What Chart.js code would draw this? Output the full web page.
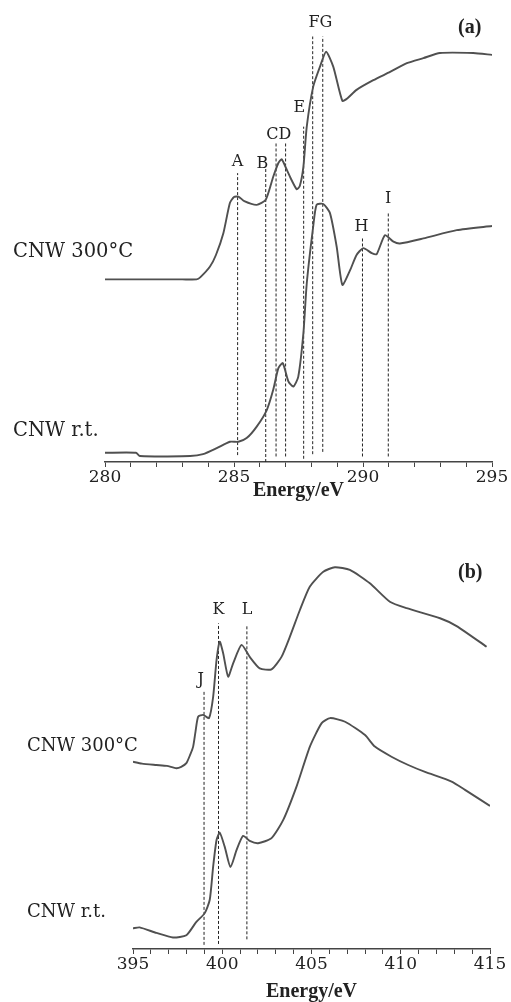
<!DOCTYPE html>
<html>
<head>
<meta charset="utf-8">
<script src="https://cdn.jsdelivr.net/npm/chart.js@4.4.1/dist/chart.umd.min.js"></script>
<style>
  html, body { margin: 0; padding: 0; background: #fff; overflow: hidden; }
  body { width: 511px; height: 1002px; position: relative; }
  canvas { position: absolute; left: 0; }
  #chartA { top: 0; }
  #chartB { top: 487px; }
  .name { position: absolute; font-family: "DejaVu Serif", serif; font-size: 18px; color: #222; white-space: nowrap; line-height: 1; }
  .big { font-size: 19.5px; }
  .tag { position: absolute; font-family: "Liberation Serif", serif; font-weight: bold; font-size: 20px; color: #222; line-height: 1; }
</style>
</head>
<body>
<canvas id="chartA" width="511" height="510"></canvas>
<canvas id="chartB" width="511" height="520"></canvas>

<div class="name big" style="left:13px; top:241px;">CNW 300°C</div>
<div class="name big" style="left:13px; top:420px;">CNW r.t.</div>
<div class="name" style="left:27px; top:736px;">CNW 300°C</div>
<div class="name" style="left:27px; top:902px;">CNW r.t.</div>
<div class="tag" style="left:458px; top:16px;">(a)</div>
<div class="tag" style="left:458px; top:561px;">(b)</div>

<script>
// ---- panel (a): C K-edge, intensity in arbitrary units ----
const energyA300 = [280.0, 281.5, 283.0, 283.55, 283.7, 284.07, 284.3, 284.59, 284.84, 285.0, 285.17, 285.4, 285.88, 286.23, 286.52, 286.72, 286.85, 287.0, 287.17, 287.43, 287.55, 287.69, 287.82, 288.07, 288.33, 288.57, 288.85, 289.2, 289.4, 289.75, 290.4, 291.05, 291.7, 292.34, 292.98, 294.27, 295.0];
const intensA300 = [3.97, 3.97, 3.97, 3.97, 4.02, 4.25, 4.5, 4.98, 5.63, 5.76, 5.77, 5.67, 5.59, 5.7, 6.2, 6.5, 6.58, 6.41, 6.2, 5.93, 6.0, 6.42, 7.29, 8.16, 8.59, 8.92, 8.59, 7.85, 7.91, 8.09, 8.3, 8.48, 8.67, 8.78, 8.89, 8.89, 8.85];

const energyART = [280.0, 281.2, 281.35, 283.3, 283.8, 284.33, 284.84, 285.17, 285.49, 285.88, 286.27, 286.52, 286.72, 286.89, 287.11, 287.3, 287.49, 287.69, 287.82, 288.07, 288.2, 288.46, 288.72, 288.98, 289.2, 289.5, 289.75, 290.01, 290.34, 290.53, 290.85, 291.18, 291.43, 292.34, 293.63, 295.0];
const intensART = [0.2, 0.2, 0.13, 0.13, 0.17, 0.3, 0.44, 0.44, 0.52, 0.77, 1.13, 1.57, 2.04, 2.15, 1.75, 1.64, 1.85, 2.8, 3.88, 5.12, 5.59, 5.61, 5.41, 4.68, 3.85, 4.17, 4.5, 4.65, 4.54, 4.52, 4.93, 4.79, 4.75, 4.86, 5.04, 5.13];

const markerEnergyA = [285.14, 286.23, 286.63, 287.0, 287.7, 288.05, 288.44, 289.98, 290.98];
const markerTopA    = [6.28, 6.37, 6.96, 6.96, 7.29, 9.25, 9.25, 4.9, 5.41];
const markerBottomA = [0.15, 0.0, 0.12, 0.12, 0.07, 0.17, 0.22, 0.12, 0.12];

const labelTextA   = ['A', 'B', 'CD', 'E', 'FG', 'H', 'I'];
const labelEnergyA = [285.14, 286.1, 286.74, 287.53, 288.35, 289.94, 290.98];
const labelValueA  = [6.53, 6.49, 7.11, 7.69, 9.54, 5.12, 5.73];

// ---- panel (b): N K-edge ----
const energyB300 = [395.0, 395.5, 396.31, 396.9, 397.43, 397.7, 397.99, 398.2, 398.37, 398.5, 398.65, 398.93, 399.26, 399.49, 399.68, 399.86, 400.05, 400.33, 400.61, 401.08, 401.54, 402.1, 402.76, 403.32, 403.79, 404.35, 404.91, 405.66, 406.31, 407.15, 408.27, 409.39, 410.33, 412.2, 413.13, 414.81];
const intensB300 = [4.07, 4.03, 4.0, 3.98, 3.93, 3.96, 4.04, 4.22, 4.4, 4.72, 5.05, 5.09, 5.02, 5.48, 6.28, 6.68, 6.43, 5.92, 6.21, 6.61, 6.35, 6.1, 6.08, 6.35, 6.79, 7.37, 7.88, 8.2, 8.3, 8.24, 7.95, 7.55, 7.41, 7.19, 7.02, 6.57];

const energyBRT = [395.0, 395.37, 396.31, 397.24, 397.99, 398.55, 399.02, 399.3, 399.49, 399.68, 399.86, 400.14, 400.46, 400.8, 401.17, 401.54, 402.01, 402.76, 403.41, 404.16, 404.91, 405.57, 406.04, 406.88, 408.0, 408.55, 409.48, 410.42, 411.36, 412.85, 413.6, 415.0];
const intensBRT = [0.45, 0.47, 0.35, 0.25, 0.3, 0.59, 0.78, 1.07, 1.79, 2.37, 2.53, 2.22, 1.78, 2.15, 2.46, 2.35, 2.3, 2.41, 2.8, 3.53, 4.4, 4.91, 5.02, 4.94, 4.65, 4.4, 4.18, 4.0, 3.85, 3.64, 3.46, 3.11];

const markerEnergyB = [398.98, 399.79, 401.38];
const markerTopB    = [5.59, 7.08, 7.04];
const markerBottomB = [0.09, 0.11, 0.21];

const labelTextB   = ['J', 'K', 'L'];
const labelEnergyB = [398.8, 399.79, 401.39];
const labelValueB  = [5.85, 7.37, 7.37];

const tickFont = { family: 'DejaVu Serif', size: 17 };
const titleFont = { family: 'Liberation Serif', size: 20, weight: 'bold' };

function toPoints(xs, ys) {
    return xs.map((x, i) => ({ x: x, y: ys[i] }));
}

function spectrum(xs, ys) {
    return {
        data: toPoints(xs, ys),
        borderColor: '#505050',
        borderWidth: 1.9,
        pointRadius: 0,
        tension: 0.2,
        fill: false
    };
}

function markerLines(es, tops, bottoms) {
    return es.map((e, i) => ({
        data: [{ x: e, y: bottoms[i] }, { x: e, y: tops[i] }],
        borderColor: '#222',
        borderWidth: 1,
        borderDash: [3, 2],
        pointRadius: 0
    }));
}

// draws the peak letters at data positions
const peakLabels = {
    id: 'peakLabels',
    afterDatasetsDraw(chart, args, opts) {
        const c = chart.ctx;
        const xs = chart.scales.x, ys = chart.scales.y;
        c.save();
        c.font = '16px "DejaVu Serif"';
        c.fillStyle = '#222';
        c.textAlign = 'center';
        c.textBaseline = 'middle';
        opts.text.forEach((t, i) => {
            c.fillText(t, xs.getPixelForValue(opts.energy[i]), ys.getPixelForValue(opts.value[i]));
        });
        c.restore();
    }
};

function makeChart(id, xmin, xmax, padLeft, padRight, scaleHeight, titlePad, datasets, labels) {
    return new Chart(document.getElementById(id), {
        type: 'line',
        data: { datasets: datasets },
        options: {
            responsive: false,
            animation: false,
            devicePixelRatio: 1,
            layout: { padding: { top: 2, left: padLeft, right: padRight, bottom: 0 } },
            plugins: {
                legend: { display: false },
                tooltip: { enabled: false },
                peakLabels: labels
            },
            scales: {
                x: {
                    type: 'linear',
                    min: xmin,
                    max: xmax,
                    ticks: {
                        stepSize: 1,
                        autoSkip: false,
                        maxRotation: 0,
                        padding: 0,
                        color: '#222',
                        font: tickFont,
                        callback: v => (v % 5 === 0 ? v : '')
                    },
                    grid: { drawOnChartArea: false, drawTicks: true, tickLength: 5, color: '#444' },
                    border: { color: '#444', width: 1.5 },
                    title: { display: true, text: 'Energy/eV', font: titleFont, color: '#222', padding: { top: 0, bottom: titlePad } },
                    afterFit: s => { s.height = scaleHeight; s.paddingLeft = 0; s.paddingRight = 0; }
                },
                y: { display: false, min: 0, max: 10 }
            }
        },
        plugins: [peakLabels]
    });
}

makeChart('chartA', 280, 295, 105, 19, 48, 7,
    [spectrum(energyA300, intensA300), spectrum(energyART, intensART)]
        .concat(markerLines(markerEnergyA, markerTopA, markerBottomA)),
    { text: labelTextA, energy: labelEnergyA, value: labelValueA });

makeChart('chartB', 395, 415, 133, 21, 58, 3,
    [spectrum(energyB300, intensB300), spectrum(energyBRT, intensBRT)]
        .concat(markerLines(markerEnergyB, markerTopB, markerBottomB)),
    { text: labelTextB, energy: labelEnergyB, value: labelValueB });
</script>
</body>
</html>
